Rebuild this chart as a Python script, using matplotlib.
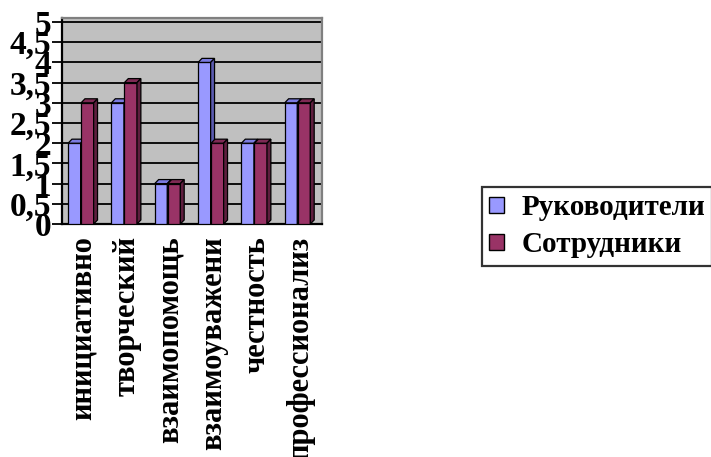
import matplotlib
matplotlib.use("Agg")
import matplotlib.pyplot as plt
from matplotlib.patches import Polygon, Rectangle
import numpy as np

# Chart data
categories = ["инициативно", "творческий", "взаимопомощь",
              "взаимоуважени", "честность", "профессионализ"]
managers = [2, 3, 1, 4, 2, 3]
employees = [3, 3.5, 1, 2, 2, 3]
series_names = ["Руководители", "Сотрудники"]
y_ticks = [0, 0.5, 1, 1.5, 2, 2.5, 3, 3.5, 4, 4.5, 5]
y_labels = ["0", "0,5", "1", "1,5", "2", "2,5", "3", "3,5", "4", "4,5", "5"]

BLUE = "#9999FF"
MAROON = "#993366"
BLUE_TOP = "#7B7BE0"
MAROON_TOP = "#7E2A54"
BLUE_DARK = "#5B5BB0"
MAROON_DARK = "#5E1E3E"

plt.rcParams["font.family"] = ["Liberation Serif", "DejaVu Serif"]
plt.rcParams["font.weight"] = "bold"

W, H = 711, 457
fig = plt.figure(figsize=(W / 100, H / 100), dpi=100)
fig.patch.set_facecolor("white")

ax = fig.add_axes([62 / W, (H - 224) / H, 260 / W, 206 / H])
ax.set_facecolor("#C0C0C0")
ax.set_xlim(-0.5, 5.5)
ax.set_ylim(0, 5.1)

# horizontal gridlines on the back wall
for t in y_ticks[1:]:
    ax.axhline(t, color="black", linewidth=1.3, zorder=1)

bar_w = 0.29
dx, dy = 0.09, 0.1   # depth offset of the pseudo-3D columns


def column(x0, h, face, top, shade):
    ax.add_patch(Rectangle((x0, 0), bar_w, h, facecolor=face,
                           edgecolor="black", linewidth=0.9, zorder=3))
    # top face
    ax.add_patch(Polygon([(x0, h), (x0 + dx, h + dy),
                          (x0 + bar_w + dx, h + dy), (x0 + bar_w, h)],
                         closed=True, facecolor=top, edgecolor="black",
                         linewidth=0.9, zorder=3))
    # side face
    ax.add_patch(Polygon([(x0 + bar_w, 0), (x0 + bar_w + dx, dy),
                          (x0 + bar_w + dx, h + dy), (x0 + bar_w, h)],
                         closed=True, facecolor=shade, edgecolor="black",
                         linewidth=0.9, zorder=3))


x = np.arange(len(categories))
for i in range(len(categories)):
    column(x[i] - 0.36, managers[i], BLUE, BLUE_TOP, BLUE_DARK)
    column(x[i] - 0.06, employees[i], MAROON, MAROON_TOP, MAROON_DARK)

ax.set_yticks(y_ticks)
ax.set_yticklabels(y_labels, fontsize=24, fontweight="bold")
ax.tick_params(axis="y", direction="out", length=7, width=1.3, pad=1)
ax.set_xticks(x)
ax.set_xticklabels(categories, rotation=90, fontsize=22,
                   fontweight="bold", va="top", ha="center")
ax.tick_params(axis="x", length=0, pad=9)

for side in ["left", "bottom"]:
    ax.spines[side].set_color("black")
    ax.spines[side].set_linewidth(1.6)
for side in ["top", "right"]:
    ax.spines[side].set_color("#808080")
    ax.spines[side].set_linewidth(1.6)

# legend
handles = [Rectangle((0, 0), 1, 1, facecolor=BLUE, edgecolor="black"),
           Rectangle((0, 0), 1, 1, facecolor=MAROON, edgecolor="black")]
leg = fig.legend(handles, series_names, loc="upper left",
                 bbox_to_anchor=(482 / W, 1 - 187 / H),
                 prop={"size": 21, "weight": "bold"},
                 frameon=True, fancybox=False, handlelength=0.5,
                 handleheight=0.5, handletextpad=0.6, borderpad=0.25,
                 labelspacing=0.35, borderaxespad=0)
leg.get_frame().set_edgecolor("black")
leg.get_frame().set_linewidth(1.6)

fig.savefig("out.png", dpi=100)
